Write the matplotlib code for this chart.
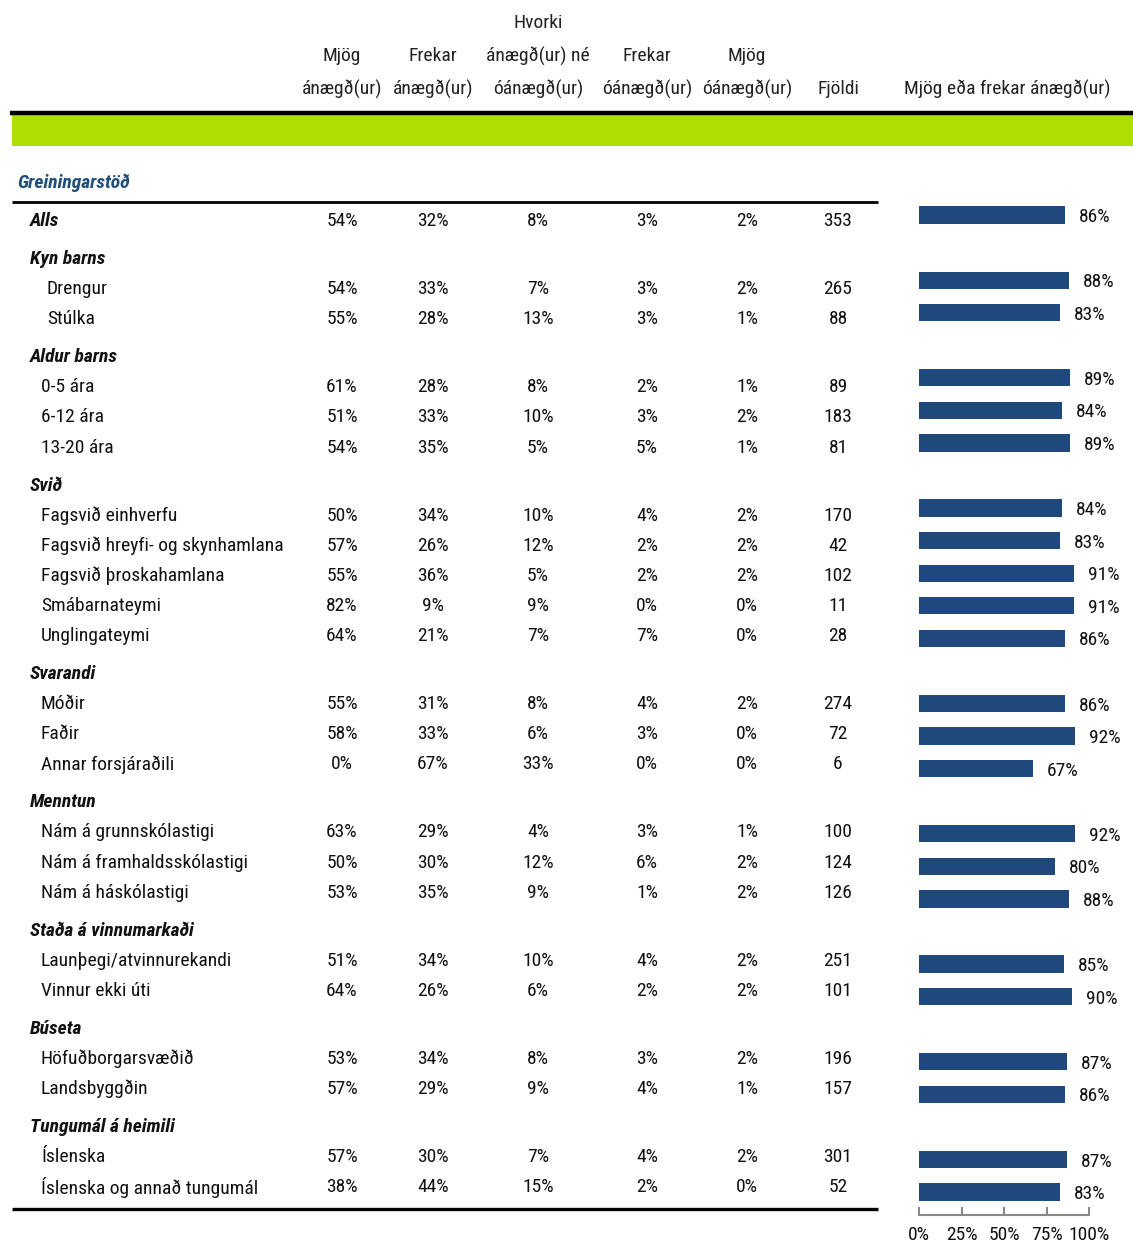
import matplotlib
matplotlib.use("Agg")
import matplotlib.pyplot as plt
from matplotlib import font_manager
from matplotlib.patches import Rectangle

# ---------------- data ----------------
col_headers = [
    ["", "Mjög", "ánægð(ur)"],
    ["", "Frekar", "ánægð(ur)"],
    ["Hvorki", "ánægð(ur) né", "óánægð(ur)"],
    ["", "Frekar", "óánægð(ur)"],
    ["", "Mjög", "óánægð(ur)"],
    ["", "", "Fjöldi"],
]
bar_header = "Mjög eða frekar ánægð(ur)"
section_title = "Greiningarstöð"

labels = [
    "Alls", "Kyn barns", "Drengur", "Stúlka",
    "Aldur barns", "0-5 ára", "6-12 ára", "13-20 ára",
    "Svið", "Fagsvið einhverfu", "Fagsvið hreyfi- og skynhamlana",
    "Fagsvið þroskahamlana", "Smábarnateymi", "Unglingateymi",
    "Svarandi", "Móðir", "Faðir", "Annar forsjáraðili",
    "Menntun", "Nám á grunnskólastigi", "Nám á framhaldsskólastigi", "Nám á háskólastigi",
    "Staða á vinnumarkaði", "Launþegi/atvinnurekandi", "Vinnur ekki úti",
    "Búseta", "Höfuðborgarsvæðið", "Landsbyggðin",
    "Tungumál á heimili", "Íslenska", "Íslenska og annað tungumál",
]
# row kind: 'total', 'head', 'item'
kinds = [
    "total", "head", "item", "item",
    "head", "item", "item", "item",
    "head", "item", "item", "item", "item", "item",
    "head", "item", "item", "item",
    "head", "item", "item", "item",
    "head", "item", "item",
    "head", "item", "item",
    "head", "item", "item",
]
N = None
mjog_anaegd = [54, N, 54, 55, N, 61, 51, 54, N, 50, 57, 55, 82, 64, N, 55, 58, 0, N, 63, 50, 53, N, 51, 64, N, 53, 57, N, 57, 38]
frekar_anaegd = [32, N, 33, 28, N, 28, 33, 35, N, 34, 26, 36, 9, 21, N, 31, 33, 67, N, 29, 30, 35, N, 34, 26, N, 34, 29, N, 30, 44]
hvorki = [8, N, 7, 13, N, 8, 10, 5, N, 10, 12, 5, 9, 7, N, 8, 6, 33, N, 4, 12, 9, N, 10, 6, N, 8, 9, N, 7, 15]
frekar_oanaegd = [3, N, 3, 3, N, 2, 3, 5, N, 4, 2, 2, 0, 7, N, 4, 3, 0, N, 3, 6, 1, N, 4, 2, N, 3, 4, N, 4, 2]
mjog_oanaegd = [2, N, 2, 1, N, 1, 2, 1, N, 2, 2, 2, 0, 0, N, 2, 0, 0, N, 1, 2, 2, N, 2, 2, N, 2, 1, N, 2, 0]
fjoldi = [353, N, 265, 88, N, 89, 183, 81, N, 170, 42, 102, 11, 28, N, 274, 72, 6, N, 100, 124, 126, N, 251, 101, N, 196, 157, N, 301, 52]
mjog_eda_frekar = [86, N, 88, 83, N, 89, 84, 89, N, 84, 83, 91, 91, 86, N, 86, 92, 67, N, 92, 80, 88, N, 85, 90, N, 87, 86, N, 87, 83]
xticks = [0, 25, 50, 75, 100]
xtick_labels = ["0%", "25%", "50%", "75%", "100%"]

# ---------------- style ----------------
avail = {f.name for f in font_manager.fontManager.ttflist}
FONT = "Roboto Condensed" if "Roboto Condensed" in avail else "Liberation Sans"
plt.rcParams["font.family"] = [FONT, "DejaVu Sans"]
FS = 14
BAR_COLOR = "#1f497d"
GREEN = "#addf00"
TITLE_BLUE = "#1f4e79"
TXT = "#111111"

W, H = 1133, 1243
fig = plt.figure(figsize=(W / 100, H / 100), dpi=100)
base = fig.add_axes([0, 0, 1, 1])
base.set_xlim(0, W)
base.set_ylim(H, 0)
base.axis("off")

# header
col_x = [342, 433, 538, 647, 747, 838]
head_y = [23, 56, 89]
for cx, lines in zip(col_x, col_headers):
    for hy, t in zip(head_y, lines):
        if t:
            base.text(cx, hy, t, ha="center", va="center", fontsize=FS, color="#222222")
base.text(1007, 89, bar_header, ha="center", va="center", fontsize=FS, color="#222222")

base.plot([10, W], [113, 113], color="black", lw=3.2, solid_capstyle="butt")
base.add_patch(Rectangle((12, 115), W - 12, 31, color=GREEN, lw=0))

base.text(17, 183, section_title, ha="left", va="center", fontsize=FS, color=TITLE_BLUE,
          fontweight="bold", fontstyle="italic")
base.plot([12, 878], [202, 202], color="black", lw=2.0, solid_capstyle="butt")
base.plot([12, 878], [1209, 1209], color="black", lw=2.4, solid_capstyle="butt")

# rows
y = 221
row_y = []
prev = None
for k in kinds:
    if prev is not None:
        y += 38 if k == "head" else 30.1
    row_y.append(y)
    prev = k

value_cols = [mjog_anaegd, frekar_anaegd, hvorki, frekar_oanaegd, mjog_oanaegd]
for i, (lab, k, ry) in enumerate(zip(labels, kinds, row_y)):
    if k in ("total", "head"):
        base.text(30, ry, lab, ha="left", va="center", fontsize=FS, fontweight="bold",
                  fontstyle="italic", color=TXT)
    else:
        indent = 47 if labels[i] in ("Drengur", "Stúlka") else 41
        base.text(indent, ry, lab, ha="left", va="center", fontsize=FS, color=TXT)
    if k != "head":
        for cx, col in zip(col_x[:5], value_cols):
            base.text(cx, ry, f"{col[i]}%", ha="center", va="center", fontsize=FS, color=TXT)
        base.text(col_x[5], ry, f"{fjoldi[i]}", ha="center", va="center", fontsize=FS, color=TXT)

# bar chart
x0, x1 = 919, 1089
ytop, ybot = 200, 1215
ax = fig.add_axes([x0 / W, 1 - ybot / H, (x1 - x0) / W, (ybot - ytop) / H])
ax.patch.set_alpha(0)
slot_px = (1192 - 215) / 30
ax.set_xlim(0, 100)
ax.set_ylim((ybot - 215) / slot_px, (ytop - 215) / slot_px)
slots = [i for i, k in enumerate(kinds) if k != "head"]
vals = [mjog_eda_frekar[i] for i in slots]
ax.barh(slots, vals, height=0.53, color=BAR_COLOR, edgecolor="none")
for s, v in zip(slots, vals):
    ax.annotate(f"{v}%", (v, s), xytext=(10, -1.5), textcoords="offset points",
                ha="left", va="center", fontsize=FS, color=TXT)
for sp in ["top", "right", "left"]:
    ax.spines[sp].set_visible(False)
ax.spines["bottom"].set_color("#888888")
ax.spines["bottom"].set_linewidth(1.5)
ax.set_yticks([])
ax.set_xticks(xticks)
ax.set_xticklabels(xtick_labels, fontsize=FS, color=TXT)
ax.tick_params(axis="x", direction="in", length=6, width=1.5, color="#888888", pad=8)

fig.savefig("out.png", dpi=100)
